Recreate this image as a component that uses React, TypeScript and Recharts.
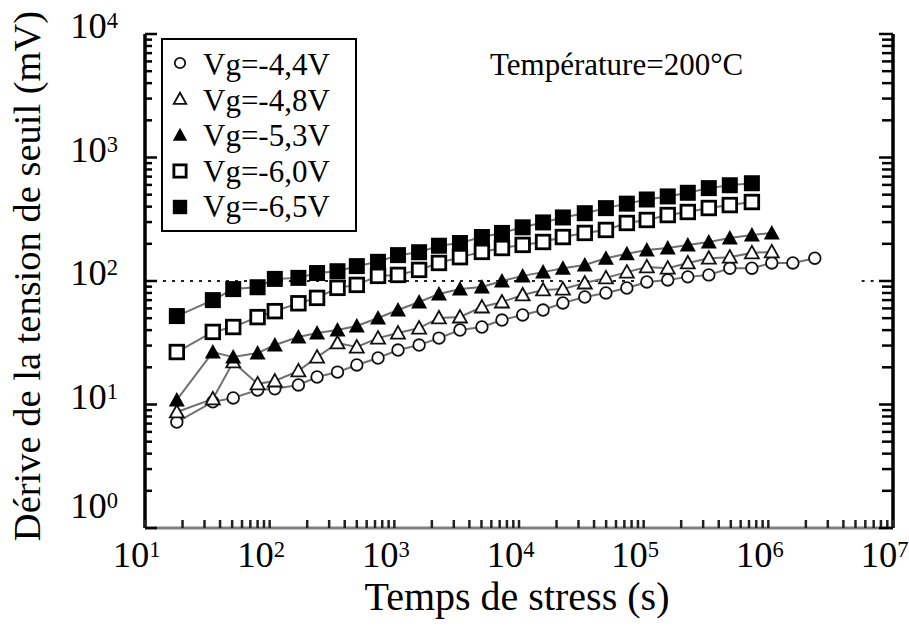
import React from 'react';
import { LineChart, Line, XAxis, YAxis, ReferenceLine, Legend } from 'recharts';

// ---------- data ----------
const times = [
  18, 35, 51, 80, 110, 170, 240, 350, 500, 740, 1070, 1580, 2280, 3360, 5040, 7300,
  10700, 15600, 22500, 33700, 49800, 73300, 106000, 156000, 226000, 333000, 491000,
  738000, 1066000, 1573000, 2360000,
];

const seriesNames = ['Vg=-4,4V', 'Vg=-4,8V', 'Vg=-5,3V', 'Vg=-6,0V', 'Vg=-6,5V'];

const vg44 = [7.2, 10.5, 11.3, 13.1, 13.4, 14.4, 16.7, 18.3, 20.9, 23.8, 27.6, 30.3, 34.5, 40.1, 42.4, 48.3, 53.1, 58.2, 66.4, 74.2, 80, 87.8, 98.2, 102, 108, 112, 127, 127, 140, 140, 153];
const vg48 = [8.7, 11.1, 22.1, 14.7, 15.5, 18.7, 24.2, 31.5, 29.2, 34.5, 37.9, 41.6, 50.2, 51.1, 61.6, 67.6, 77.1, 84.6, 86.1, 96.3, 106, 118, 130, 127, 140, 153, 156, 169, 172];
const vg53 = [10.9, 26.6, 24.2, 26.1, 30.3, 35.2, 37.9, 40.1, 43.2, 50.2, 58.2, 67.6, 78.5, 86.1, 89.4, 100, 110, 118, 127, 135, 153, 166, 178, 185, 196, 207, 223, 236, 245];
const vg60 = [26.6, 38.7, 42.4, 51, 57, 66, 73, 88, 93, 110, 112, 123, 140, 156, 172, 185, 196, 207, 227, 245, 259, 295, 312, 342, 362, 390, 412, 436];
const vg65 = [52, 70, 86, 89, 104, 106, 116, 120, 132, 143, 162, 171, 193, 203, 227, 245, 272, 298, 327, 354, 389, 423, 457, 484, 518, 565, 596, 619];

const xMajorTicks = [10, 100, 1000, 10000, 100000, 1000000, 10000000];
const yMajorTicks = [1, 10, 100, 1000, 10000];
const refLevel = 100;
const annotation = 'Température=200°C';
const xTitle = 'Temps de stress (s)';
const yTitle = 'Dérive de la tension de seuil (mV)';

// ---------- helpers ----------
const withMinors = (majors: number[]) => {
  const out: number[] = [];
  majors.forEach((m, i) => {
    out.push(m);
    if (i < majors.length - 1) for (let k = 2; k <= 9; k++) out.push(m * k);
  });
  return out;
};
const xTicks = withMinors(xMajorTicks);
const yTicks = withMinors(yMajorTicks);

const toPoints = (vals: number[]) => vals.map((v, i) => ({ t: times[i], v }));

const FONT = "'Liberation Serif', 'Times New Roman', serif";
const TM = 10; // tick margin
const W = 909;
const H = 626;

type ShapeKind = 'circle' | 'triangle' | 'filledTriangle' | 'square' | 'filledSquare';

const Marker = ({ kind, cx, cy, scale = 1 }: { kind: ShapeKind; cx: number; cy: number; scale?: number }) => {
  if (cx == null || cy == null || isNaN(cx) || isNaN(cy)) return null;
  const s = scale;
  switch (kind) {
    case 'circle':
      return <circle cx={cx} cy={cy} r={5.8 * s} fill="#fff" stroke="#111" strokeWidth={1.8} />;
    case 'triangle':
      return (
        <polygon
          points={`${cx},${cy - 7 * s} ${cx - 7 * s},${cy + 5.5 * s} ${cx + 7 * s},${cy + 5.5 * s}`}
          fill="#fff"
          stroke="#111"
          strokeWidth={1.8}
        />
      );
    case 'filledTriangle':
      return (
        <polygon
          points={`${cx},${cy - 8 * s} ${cx - 8 * s},${cy + 6.5 * s} ${cx + 8 * s},${cy + 6.5 * s}`}
          fill="#000"
        />
      );
    case 'square':
      return <rect x={cx - 6.8 * s} y={cy - 6.8 * s} width={13.6 * s} height={13.6 * s} fill="#fff" stroke="#000" strokeWidth={2.8} />;
    case 'filledSquare':
      return <rect x={cx - 8 * s} y={cy - 8 * s} width={16 * s} height={16 * s} fill="#000" />;
  }
  return null;
};

const series: { name: string; vals: number[]; kind: ShapeKind }[] = [
  { name: seriesNames[0], vals: vg44, kind: 'circle' },
  { name: seriesNames[1], vals: vg48, kind: 'triangle' },
  { name: seriesNames[2], vals: vg53, kind: 'filledTriangle' },
  { name: seriesNames[3], vals: vg60, kind: 'square' },
  { name: seriesNames[4], vals: vg65, kind: 'filledSquare' },
];

const isMajor = (v: number) => Math.abs(Math.log10(v) - Math.round(Math.log10(v))) < 1e-6;

const XTick = (props: any) => {
  const { x, y, payload } = props;
  const v = payload.value;
  const axisY = y - TM;
  const major = isMajor(v);
  const exp = Math.round(Math.log10(v));
  return (
    <g>
      <line x1={x} x2={x} y1={axisY} y2={axisY - 8} stroke="#222" strokeWidth={2.5} />
      {major && (
        <text x={x - 8.5} y={axisY + 39} textAnchor="middle" fontFamily={FONT} fontSize={36.5} fill="#000">
          10<tspan dy={-10} fontSize={22.5}>{exp}</tspan>
        </text>
      )}
    </g>
  );
};

const YTickLeft = (props: any) => {
  const { x, y, payload } = props;
  const v = payload.value;
  const axisX = x + TM;
  const major = isMajor(v);
  const exp = Math.round(Math.log10(v));
  return (
    <g>
      <line x1={axisX} x2={axisX + (major ? 12 : 7)} y1={y} y2={y} stroke="#000" strokeWidth={2.5} />
      {major && (
        <text x={axisX - 27} y={exp === 0 ? y - 10 : y + 4} textAnchor="end" fontFamily={FONT} fontSize={36.5} fill="#000">
          10<tspan dy={-10} fontSize={22.5}>{exp}</tspan>
        </text>
      )}
    </g>
  );
};

const YTickRight = (props: any) => {
  const { x, y, payload } = props;
  const v = payload.value;
  const axisX = x - TM;
  const major = isMajor(v);
  return <line x1={axisX} x2={axisX - (major ? 14 : 11)} y1={y} y2={y} stroke="#000" strokeWidth={2.5} />;
};

const XTitle = (props: any) => {
  const vb = props.viewBox || {};
  return (
    <text x={vb.x + vb.width / 2 - 2} y={vb.y + 82} textAnchor="middle" fontFamily={FONT} fontSize={40} fill="#000">
      {xTitle}
    </text>
  );
};

const YTitle = (props: any) => {
  const vb = props.viewBox || {};
  const cx = vb.x + 40;
  const cy = vb.y + vb.height / 2 - 5;
  return (
    <text x={cx} y={cy} transform={`rotate(-90, ${cx}, ${cy})`} textAnchor="middle" fontFamily={FONT} fontSize={38.5} fill="#000">
      {yTitle}
    </text>
  );
};

const LegendBox = () => (
  <svg width={196} height={194} style={{ display: 'block' }}>
    <rect x={1} y={1} width={194} height={192} fill="#fff" stroke="#000" strokeWidth={2} />
    {series.map((s, i) => (
      <g key={s.name}>
        <Marker kind={s.kind} cx={19} cy={25 + i * 36} scale={0.9} />
        <text x={42} y={37 + i * 35.5} fontFamily={FONT} fontSize={31} fill="#000">
          {s.name}
        </text>
      </g>
    ))}
  </svg>
);

export default function App() {
  return (
    <div style={{ position: 'absolute', left: 0, top: 0, width: W, height: H, fontFamily: FONT }}>
      <LineChart width={W} height={H} margin={{ top: 34, right: 0, bottom: 0, left: 0 }}>
        <XAxis
          dataKey="t"
          type="number"
          scale="log"
          domain={[10, 10000000]}
          allowDataOverflow
          ticks={xTicks}
          interval={0}
          height={98}
          tickSize={0}
          tickMargin={TM}
          tick={<XTick />}
          axisLine={{ stroke: '#808080', strokeWidth: 3 }}
          label={{ content: XTitle }}
        />
        <XAxis
          xAxisId="top"
          orientation="top"
          type="number"
          scale="log"
          domain={[10, 10000000]}
          allowDataOverflow
          height={0}
          tick={false}
          tickLine={false}
          axisLine={{ stroke: '#000', strokeWidth: 2.5 }}
        />
        <YAxis
          type="number"
          scale="log"
          domain={[1, 10000]}
          allowDataOverflow
          ticks={yTicks}
          interval={0}
          width={145}
          tickSize={0}
          tickMargin={TM}
          tick={<YTickLeft />}
          axisLine={{ stroke: '#000', strokeWidth: 3.5 }}
          label={{ content: YTitle }}
        />
        <YAxis
          yAxisId="right"
          orientation="right"
          type="number"
          scale="log"
          domain={[1, 10000]}
          allowDataOverflow
          ticks={yTicks}
          interval={0}
          width={16}
          tickSize={0}
          tickMargin={TM}
          tick={<YTickRight />}
          axisLine={{ stroke: '#000', strokeWidth: 3.5 }}
        />
        <ReferenceLine
          segment={[{ x: 10, y: refLevel }, { x: 90000, y: refLevel }]}
          stroke="#222"
          strokeWidth={2}
          strokeDasharray="3 6"
        />
        <ReferenceLine
          segment={[{ x: 5600000, y: refLevel }, { x: 10000000, y: refLevel }]}
          stroke="#222"
          strokeWidth={2}
          strokeDasharray="3 6"
        />
        {series.map((s) => (
          <Line
            key={s.name}
            name={s.name}
            data={toPoints(s.vals)}
            dataKey="v"
            type="linear"
            stroke="#707070"
            strokeWidth={2}
            isAnimationActive={false}
            activeDot={false}
            dot={(p: any) => (
              <g key={`${s.name}-${p.index}`}>
                <Marker kind={s.kind} cx={p.cx} cy={p.cy} />
              </g>
            )}
          />
        ))}
        <Legend
          layout="vertical"
          align="center"
          verticalAlign="middle"
          wrapperStyle={{ left: 161, top: 38, width: 196, height: 194 }}
          content={() => <LegendBox />}
        />
      </LineChart>
      <svg width={W} height={H} style={{ position: 'absolute', left: 0, top: 0, pointerEvents: 'none' }}>
        <text x={490} y={75} fontFamily={FONT} fontSize={31} fill="#000">
          {annotation}
        </text>
      </svg>
    </div>
  );
}
